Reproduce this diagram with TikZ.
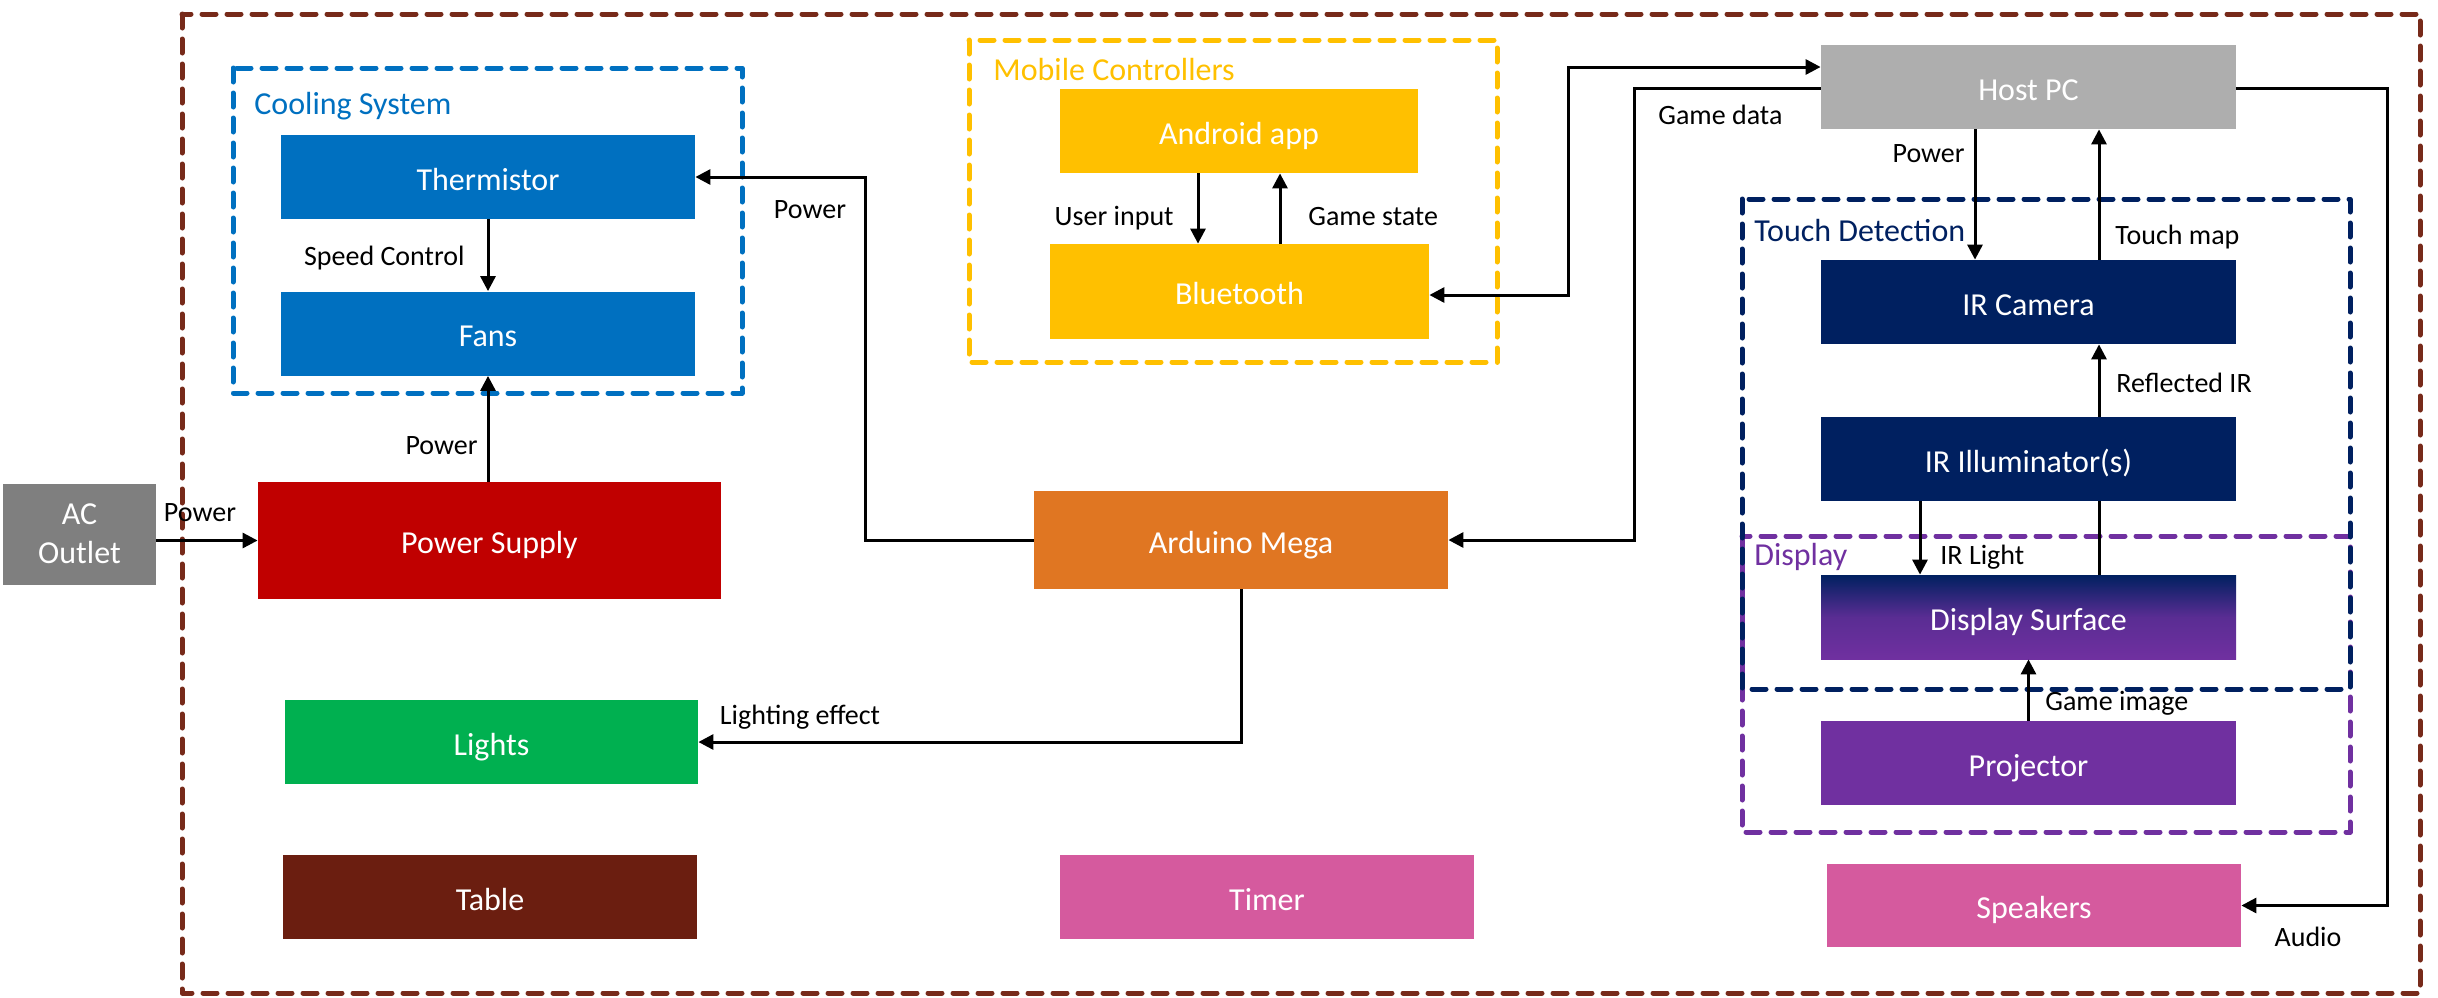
\documentclass[tikz,border=0pt]{standalone}
\usepackage{fontspec}
\setmainfont{Carlito}
\usetikzlibrary{arrows.meta}
\definecolor{outerc}{HTML}{772A1A}
\definecolor{cblue}{HTML}{0070C0}
\definecolor{cyel}{HTML}{FFC000}
\definecolor{cnavy}{HTML}{002060}
\definecolor{cpurp}{HTML}{7030A0}
\definecolor{cred}{HTML}{C00000}
\definecolor{cgray}{HTML}{7F7F7F}
\definecolor{chost}{HTML}{AEAEAE}
\definecolor{corange}{HTML}{E07622}
\definecolor{cgreen}{HTML}{00B050}
\definecolor{cpink}{HTML}{D55A9E}
\definecolor{ctable}{HTML}{6B1E10}
\begin{document}
\begin{tikzpicture}[x=0.5pt,y=-0.5pt,
  blk/.style={draw=none, inner sep=0pt, text=white, align=center,
    font=\fontsize{16}{19.5}\selectfont, minimum width=207pt, minimum height=42pt},
  one/.style={text height=13.5pt, text depth=0.5pt},
  lbl/.style={inner sep=0pt, text=black, font=\fontsize{14}{16}\selectfont},
  glbl/.style={inner sep=0pt, anchor=west, font=\fontsize{16}{18}\selectfont},
  grp/.style={line width=2.5pt, dash pattern=on 7pt off 5.5pt, line cap=round, line join=round},
  arr/.style={line width=1.5pt, line join=miter, -{Triangle[length=7.5pt,width=7.5pt]}},
  dblarr/.style={line width=1.5pt, line join=miter, {Triangle[length=7.5pt,width=7.5pt]}-{Triangle[length=7.5pt,width=7.5pt]}},
  plain/.style={line width=1.5pt, line join=miter}]
\useasboundingbox (0,0) rectangle (2438,997);

% outer border
\draw[grp, draw=outerc] (182,14) rectangle (2420,993);

% group boxes
\draw[grp, draw=cblue] (233,68) rectangle (742,393);
\node[glbl, text=cblue] (gcool) at (254,106) {Cooling System};
\draw[grp, draw=cyel] (969,40) rectangle (1497,362);
\node[glbl, text=cyel] (gmob) at (993,70) {Mobile Controllers};
\draw[grp, draw=cpurp] (1742,536) rectangle (2350,832);
\draw[grp, draw=cnavy] (1742,199) rectangle (2350,689);
\node[glbl, text=cnavy] (gtouch) at (1754,231) {Touch Detection};
\node[glbl, text=cpurp] (gdisp) at (1754,557) {Display};

% blocks
\node[blk, fill=cgray, minimum width=76.5pt, minimum height=50.5pt] (ac) at (79.5,534) {AC\\Outlet};
\node[blk, one, fill=cred, minimum width=231.5pt, minimum height=58.5pt] (ps) at (489.5,540.5) {Power Supply};
\node[blk, one, fill=cblue] (therm) at (488,177) {Thermistor};
\node[blk, one, fill=cblue] (fans) at (488,333.5) {Fans};
\node[blk, one, fill=cgreen, minimum width=206.5pt] (lights) at (491.5,742) {Lights};
\node[blk, one, fill=ctable] (table) at (490,897) {Table};
\node[blk, one, fill=cyel, minimum width=179pt] (android) at (1239,131) {Android app};
\node[blk, one, fill=cyel, minimum width=189.5pt, minimum height=47.5pt] (bt) at (1239.5,291.5) {Bluetooth};
\node[blk, one, fill=corange, minimum height=49pt] (ard) at (1241,540) {Arduino Mega};
\node[blk, one, fill=cpink] (timer) at (1267,897) {Timer};
\node[blk, one, fill=chost, minimum width=207.5pt] (host) at (2028.5,87) {Host PC};
\node[blk, one, fill=cnavy, minimum width=207.5pt] (cam) at (2028.5,302) {IR Camera};
\node[blk, one, fill=cnavy, minimum width=207.5pt] (ill) at (2028.5,459) {IR Illuminator(s)};
\node[blk, one, top color=cnavy, bottom color=cpurp, middle color=cpurp!80!cnavy, minimum width=207.5pt] (ds) at (2028.5,617) {Display Surface};
\node[blk, one, fill=cpurp, minimum width=207.5pt] (proj) at (2028.5,763) {Projector};
\node[blk, one, fill=cpink, minimum height=41.5pt] (spk) at (2034,905.5) {Speakers};

% connectors
\draw[arr] (ac.east |- ps.west) -- (ps.west);
\node[lbl] (lac) at (200,513) {Power};
\draw[arr] (ps.north -| fans.south) -- (fans.south);
\node[lbl, anchor=east] (lpf) at (478,446) {Power};
\draw[arr] (therm.south) -- (fans.north);
\node[lbl, anchor=east] (lsc) at (465,258) {Speed Control};
\draw[arr] (ard.west) -- ++(-168,0) |- (therm.east);
\node[lbl] (lpt) at (810,210) {Power};
\draw[arr] (ard.south) |- (lights.east);
\node[lbl] (lle) at (800,717) {Lighting effect};
\draw[arr] (android.south -| 1198,0) -- (bt.north -| 1198,0);
\node[lbl, anchor=east] (lui) at (1174,218) {User input};
\draw[arr] (bt.north -| 1280,0) -- (android.south -| 1280,0);
\node[lbl, anchor=west] (lgs) at (1308,217) {Game state};
\draw[dblarr] (bt.east |- 0,295) -- (1568,295) -- (1568,67) -- (host.west |- 0,67);
\draw[arr] (host.west |- 0,88) -- (1634,88) |- (ard.east);
\node[lbl, anchor=west] (lgd) at (1658,115) {Game data};
\draw[arr] (host.south -| 1975,0) -- (cam.north -| 1975,0);
\node[lbl, anchor=east] (lhp) at (1965,154) {Power};
\draw[arr] (cam.north -| 2099,0) -- (host.south -| 2099,0);
\node[lbl, anchor=west] (ltm) at (2115,237) {Touch map};
\draw[arr] (ill.north -| 2099,0) -- (cam.south -| 2099,0);
\node[lbl, anchor=west] (lri) at (2116,383) {Reflected IR};
\draw[plain] (ds.north -| 2099,0) -- (ill.south -| 2099,0);
\draw[arr] (ill.south -| 1920,0) -- (ds.north -| 1920,0);
\node[lbl, anchor=west] (lil) at (1940,557) {IR Light};
\draw[arr] (proj.north) -- (ds.south);
\node[lbl, anchor=west] (lgi) at (2045,703) {Game image};
\draw[arr] (host.east |- 0,88) -- (2387,88) |- (spk.east);
\node[lbl] (lau) at (2308,937) {Audio};
\end{tikzpicture}
\end{document}
